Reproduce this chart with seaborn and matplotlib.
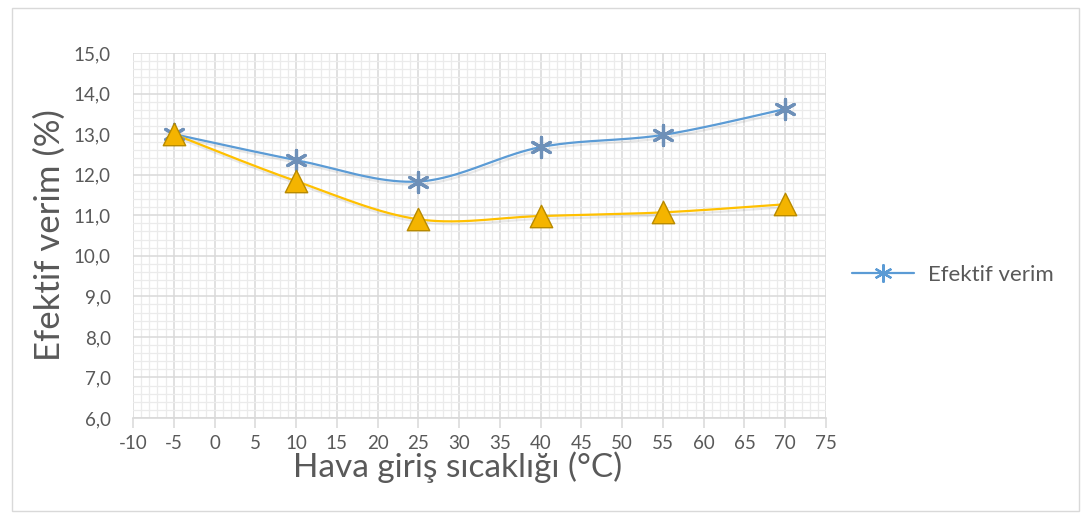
import numpy as np
import pandas as pd
import matplotlib
matplotlib.use("Agg")
import matplotlib.pyplot as plt
import matplotlib.patheffects as pe
from matplotlib.lines import Line2D
from matplotlib.patches import Rectangle
from matplotlib.ticker import MultipleLocator, FuncFormatter
import seaborn as sns

# Air inlet temperature (°C) and effective efficiency (%) for two cases
temps = [-5, 10, 25, 40, 55, 70]
verim_efektif = [13.0, 12.36, 11.83, 12.68, 12.98, 13.62]
verim_ikinci = [13.0, 11.84, 10.90, 10.98, 11.07, 11.27]

legend_label = "Efektif verim"
x_label = "Hava giriş sıcaklığı (°C)"
y_label = "Efektif verim (%)"

BLUE = "#5B9BD5"
STAR = "#6E90B8"
GOLD = "#FFC000"
GOLD_FILL = "#F4B400"
GOLD_EDGE = "#B88A00"
TEXT = "#595959"
GRID = "#D9D9D9"
MINOR = "#EBEBEB"


def smooth_curve(xs, ys, n=40):
    """Piecewise cubic Bezier through the points (Catmull-Rom style)."""
    p = np.column_stack([xs, ys]).astype(float)
    out = []
    for i in range(len(p) - 1):
        p0 = p[i - 1] if i > 0 else p[i]
        p1, p2 = p[i], p[i + 1]
        p3 = p[i + 2] if i + 2 < len(p) else p[i + 1]
        c1 = p1 + (p2 - p0) / 6.0
        c2 = p2 - (p3 - p1) / 6.0
        t = np.linspace(0, 1, n)[:, None]
        seg = ((1 - t) ** 3) * p1 + 3 * ((1 - t) ** 2) * t * c1 + 3 * (1 - t) * t ** 2 * c2 + t ** 3 * p2
        out.append(seg if i == 0 else seg[1:])
    seg = np.vstack(out)
    return pd.DataFrame({"x": seg[:, 0], "y": seg[:, 1]})


sns.set_theme(style="white")
plt.rcParams["font.family"] = ["Lato", "DejaVu Sans"]

fig = plt.figure(figsize=(10.85, 5.18), dpi=100)
ax = fig.add_axes([133 / 1085, 1 - 418 / 518, (826 - 133) / 1085, (418 - 53) / 518])

# outer chart border
fig.patches.append(Rectangle((12 / 1085, 7 / 518), (1079 - 12) / 1085, (510 - 7) / 518,
                             transform=fig.transFigure, fill=False, edgecolor=GRID, lw=1.0))

ax.set_xlim(-10, 75)
ax.set_ylim(6, 15)
ax.xaxis.set_major_locator(MultipleLocator(5))
ax.xaxis.set_minor_locator(MultipleLocator(1))
ax.yaxis.set_major_locator(MultipleLocator(1))
ax.yaxis.set_minor_locator(MultipleLocator(0.2))
ax.grid(which="minor", color=MINOR, lw=0.9, zorder=0)
ax.grid(which="major", color=GRID, lw=1.1, zorder=0.5)
ax.set_axisbelow(True)

shadow = [pe.SimpleLineShadow(offset=(1.0, -2.0), alpha=0.09, rho=0.5), pe.Normal()]

sns.lineplot(data=smooth_curve(temps, verim_efektif), x="x", y="y", sort=False,
             estimator=None, color=BLUE, lw=1.6, ax=ax, zorder=3, path_effects=shadow)
sns.lineplot(data=smooth_curve(temps, verim_ikinci), x="x", y="y", sort=False,
             estimator=None, color=GOLD, lw=1.6, ax=ax, zorder=3, path_effects=shadow)

sns.scatterplot(x=temps, y=verim_efektif, marker=(6, 2, 0), s=210, color=STAR,
                linewidth=2.3, ax=ax, zorder=4)
sns.scatterplot(x=temps, y=verim_ikinci, marker="^", s=260, color=GOLD_FILL,
                edgecolor=GOLD_EDGE, linewidth=1.0, ax=ax, zorder=5)

for side in ["top", "right", "left"]:
    ax.spines[side].set_visible(False)
ax.spines["bottom"].set_color(GRID)
ax.spines["bottom"].set_linewidth(1.2)

ax.tick_params(axis="x", which="major", direction="out", length=7, width=1.1,
               color=GRID, labelcolor=TEXT, labelsize=13.5, pad=5, bottom=True)
ax.tick_params(axis="x", which="minor", length=0)
ax.tick_params(axis="y", which="both", length=0, labelcolor=TEXT, labelsize=13.5, pad=16)
ax.yaxis.set_major_formatter(FuncFormatter(lambda v, _: f"{v:.1f}".replace(".", ",")))
ax.xaxis.set_major_formatter(FuncFormatter(lambda v, _: f"{v:.0f}"))

ax.set_xlabel(x_label, fontsize=24, color=TEXT)
ax.set_ylabel(y_label, fontsize=25, color=TEXT)
ax.xaxis.set_label_coords((458 - 133) / (826 - 133), -(467 - 418) / (418 - 53))
ax.xaxis.label.set_va("center")
ax.yaxis.set_label_coords(-(133 - 50) / (826 - 133), 0.5)
ax.yaxis.label.set_va("center")

handle = Line2D([], [], color=BLUE, lw=1.6, marker=(6, 2, 0), markersize=13,
                markeredgewidth=1.6, markeredgecolor=BLUE)
fig.legend([handle], [legend_label], loc="center left", bbox_to_anchor=(832 / 1085, 1 - 275 / 518),
           frameon=False, fontsize=16, labelcolor=TEXT, handlelength=2.8, handletextpad=0.6)

fig.savefig("out.png", dpi=100)
